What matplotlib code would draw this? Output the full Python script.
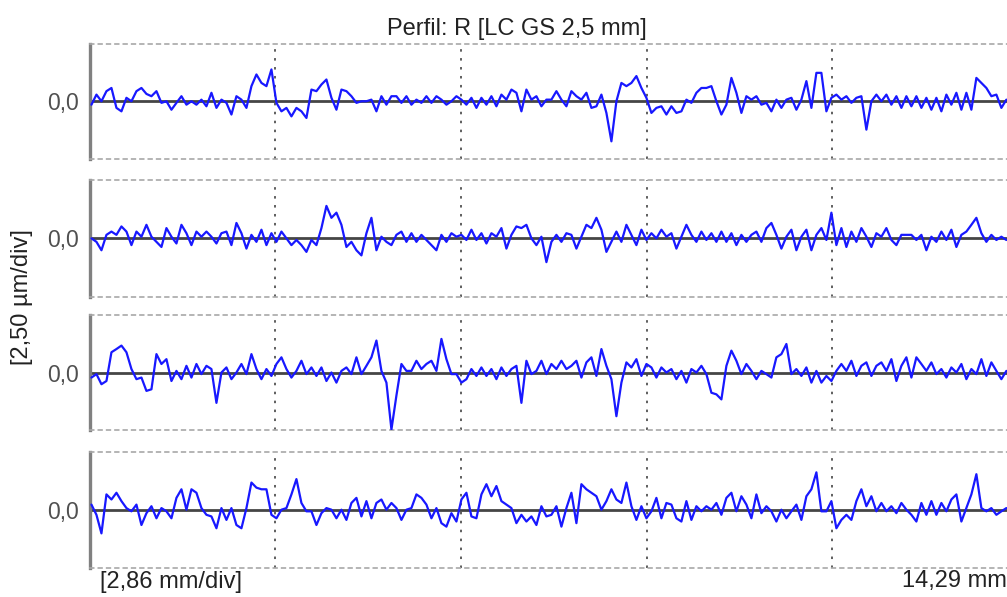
import matplotlib
matplotlib.use('Agg')
import matplotlib.pyplot as plt
import numpy as np

plt.rcParams['font.family'] = ['Liberation Sans', 'DejaVu Sans']

# roughness profiles, height in um, one sample every dx mm
x0 = 0.03
dx = 0.077
length = 14.29      # mm, total length of the trace
div_x = 2.86        # mm/div
div_y = 2.50        # um/div

r1 = [-0.15, 0.29, 0.0, 0.44, 0.58, -0.29, -0.44, 0.15, 0.0, 0.44,
      0.58, 0.32, 0.22, 0.44, -0.07, 0.0, -0.37, -0.07, 0.22, -0.15,
      0.0, -0.15, 0.07, -0.22, 0.37, -0.29, 0.07, -0.07, -0.58, 0.22,
      0.07, -0.29, 0.66, 1.17, 0.80, 0.66, 1.39, -0.07, -0.44, -0.29,
      -0.66, -0.29, -0.44, -0.73, 0.51, 0.44, 0.73, 0.95, 0.15, -0.37,
      0.51, 0.44, 0.22, -0.07, 0.0, 0.0, 0.07, -0.44, 0.22, -0.15,
      0.22, 0.22, -0.07, 0.22, -0.15, 0.07, -0.07, 0.22, -0.07, 0.22,
      0.07, -0.15, 0.0, 0.22, 0.07, -0.15, 0.15, -0.29, 0.15, -0.15,
      0.22, -0.22, 0.29, 0.07, 0.51, 0.37, -0.44, 0.51, 0.07, 0.22,
      -0.22, 0.07,
      0.07, 0.44, 0.07, -0.22, 0.44, 0.22, 0.07, 0.37, -0.29, -0.22,
      0.29, -0.51, -1.75, 0.0, 0.80, 0.66, 0.80, 1.10, 0.58, 0.15,
      -0.51, -0.29, -0.22, -0.58, -0.22, -0.51, -0.44, 0.07, -0.07, 0.37,
      0.58, 0.58, 0.66, 0.0, -0.58, -0.15, 1.02, 0.37, -0.51, 0.22,
      0.07, 0.22, -0.15, -0.07, -0.44, 0.07, -0.29, 0.07, 0.15, -0.37,
      0.07, 0.88, -0.29, 1.24, 1.24, -0.44, 0.15, 0.29, 0.07, 0.22,
      -0.07, 0.15, 0.22, -1.24, 0.0, 0.29, 0.0, 0.29, -0.15, 0.22,
      -0.29, 0.22, -0.22, 0.22, -0.29, 0.15, -0.37, 0.15, -0.44, 0.29,
      -0.15, 0.37, -0.37, 0.37, -0.37, 1.02, 0.80, 0.58, 0.22, 0.29,
      -0.29, 0.07]

r2 = [0.0, -0.15, -0.51, 0.15, 0.29, 0.15, 0.51, 0.29, -0.29, 0.29,
      0.07, 0.58, 0.07, -0.15, -0.37, 0.44, 0.07, -0.22, 0.58, 0.22,
      -0.29, 0.29, 0.07, 0.29, 0.07, -0.22, 0.22, 0.29, -0.29, 0.66,
      0.22, -0.44, 0.15, -0.15, 0.37, -0.29, 0.22, -0.15, 0.29, 0.0,
      -0.29, -0.07, -0.29, -0.58, -0.07, -0.29, 0.44, 1.39, 0.88, 1.10,
      0.58, -0.37, -0.15, -0.51, -0.73, 0.22, 0.88, -0.51, 0.07, -0.15,
      -0.29, 0.15, 0.29, -0.15, 0.22, -0.15, 0.15, -0.07, -0.29, -0.51,
      0.15, -0.15, 0.22, 0.07, 0.15, -0.07, 0.37, -0.07, 0.22, -0.22,
      0.22, 0.07, 0.44, -0.44, 0.15, 0.51, 0.44, 0.58, 0.0, -0.29,
      0.07, -1.02,
      -0.15, 0.15, -0.15, 0.22, 0.15, -0.44, 0.07, 0.58, 0.44, 0.88,
      0.37, -0.58, -0.15, 0.29, -0.15, 0.58, 0.15, -0.29, 0.37, -0.07,
      0.22, 0.0, 0.37, 0.07, 0.22, -0.44, 0.07, 0.58, 0.15, -0.15,
      0.29, -0.07, 0.22, -0.15, 0.29, -0.15, 0.22, -0.29, 0.15, -0.15,
      0.15, 0.29, -0.15, 0.44, 0.66, 0.15, -0.44, 0.07, 0.37, -0.51,
      0.07, 0.37, -0.51, 0.15, 0.44, -0.07, 1.10, -0.29, 0.44, -0.37,
      0.29, -0.15, 0.44, 0.07, -0.37, 0.22, 0.07, 0.44, -0.07, -0.29,
      0.15, 0.15, 0.15, -0.07, 0.15, -0.51, 0.07, -0.15, 0.29, -0.07,
      0.37, -0.37, 0.15, 0.29, 0.58, 0.88, 0.22, -0.15, 0.15, -0.07,
      0.07, -0.07]

r3 = [-0.22, -0.07, -0.51, -0.37, 0.88, 1.02, 1.17, 0.88, 0.15, -0.29,
      -0.22, -0.80, -0.73, 0.80, 0.37, 0.58, -0.37, 0.07, -0.29, 0.29,
      -0.22, 0.37, -0.07, 0.29, 0.15, -1.32, 0.0, 0.22, -0.29, 0.0,
      0.37, -0.07, 0.80, 0.15, -0.29, 0.15, -0.15, 0.37, 0.66, 0.15,
      -0.22, 0.07, 0.51, -0.07, 0.22, -0.15, 0.22, -0.37, 0.0, -0.44,
      0.07, 0.22, -0.07, 0.66, -0.07, 0.29, 0.66, 1.39, 0.07, -0.44,
      -2.48, -1.0, 0.37, 0.07, 0.07, 0.51, 0.15, 0.37, 0.51, 0.07,
      1.46, 0.58, -0.07, -0.07, -0.44, -0.29, 0.15, -0.15, 0.22, -0.15,
      0.15, -0.29, 0.22, -0.15, 0.15, 0.29, -1.32, 0.51, -0.07, 0.07,
      0.51, -0.07,
      0.37, 0.15, 0.51, 0.15, 0.29, 0.51, -0.22, 0.44, 0.66, -0.15,
      1.02, 0.29, -0.29, -1.90, -0.44, 0.44, 0.22, 0.58, -0.15, 0.37,
      0.22, -0.22, 0.22, 0.0, 0.15, -0.29, 0.07, -0.44, 0.15, 0.0,
      0.29, -0.07, -0.88, -0.95, -1.17, 0.29, 0.95, 0.51, -0.07, 0.37,
      0.07, -0.29, 0.07, -0.07, -0.22, 0.66, 0.80, 1.24, -0.07, 0.15,
      -0.15, 0.22, -0.44, 0.07, -0.44, -0.15, -0.37, 0.07, 0.37, 0.07,
      0.51, -0.15, 0.29, 0.44, -0.15, 0.29, 0.44, 0.07, 0.58, -0.37,
      0.29, 0.66, -0.22, 0.66, 0.37, 0.07, 0.44, -0.07, 0.15, -0.22,
      0.22, 0.0, 0.37, -0.29, 0.15, -0.07, 0.58, -0.15, 0.44, 0.07,
      -0.29, 0.07]

r4 = [0.22, -0.22, -1.02, 0.66, 0.44, 0.73, 0.37, 0.07, -0.07, 0.22,
      -0.66, -0.15, 0.15, -0.37, 0.07, -0.07, -0.37, 0.51, 0.88, 0.0,
      0.88, 0.73, 0.07, -0.22, -0.29, -0.80, 0.07, -0.44, 0.07, -0.66,
      -0.80, 0.07, 1.17, 0.95, 0.88, 0.88, -0.22, -0.37, 0.0, 0.07,
      0.66, 1.32, 0.29, -0.07, -0.07, -0.66, -0.15, 0.07, 0.0, -0.37,
      0.0, -0.44, 0.29, 0.51, -0.29, 0.37, -0.37, 0.29, 0.44, 0.0,
      0.29, 0.07, -0.44, 0.0, 0.07, 0.66, 0.51, 0.22, -0.37, 0.07,
      -0.58, -0.73, -0.15, -0.51, 0.44, 0.73, -0.29, -0.37, 0.66, 1.10,
      0.58, 1.02, 0.37, 0.22, 0.07, -0.58, -0.22, -0.51, -0.29, -0.66,
      0.15, -0.29,
      -0.22, 0.15, -0.73, 0.07, 0.73, -0.58, 1.10, 0.88, 0.73, 0.58,
      0.0, 0.37, 0.88, 0.44, 0.29, 1.17, 0.15, -0.44, 0.15, -0.37,
      -0.07, 0.51, -0.37, 0.29, 0.22, -0.37, -0.51, 0.37, -0.44, 0.15,
      -0.07, 0.15, 0.0, 0.29, -0.22, 0.51, 0.73, -0.07, 0.58, 0.22,
      -0.37, 0.66, -0.15, 0.15, -0.07, -0.51, 0.0, -0.37, -0.07, 0.22,
      -0.44, 0.58, 0.88, 1.61, -0.07, -0.07, 0.37, -0.80, -0.44, -0.22,
      -0.44, 0.37, 0.88, 0.15, 0.58, -0.07, 0.29, -0.07, 0.15, -0.15,
      0.29, 0.0, -0.22, -0.51, 0.29, -0.22, 0.37, -0.22, 0.29, -0.07,
      0.44, 0.66, -0.51, 0.07, 0.66, 1.53, 0.07, -0.07, 0.07, -0.22,
      -0.07, 0.07]

profiles = [r1, r2, r3, r4]

title = 'Perfil: R [LC GS 2,5 mm]'
ylabel = '[2,50 µm/div]'
xlabel = '[2,86 mm/div]'
xend_label = '14,29 mm'

W, H = 1007, 597
fig = plt.figure(figsize=(W / 100, H / 100), dpi=100)

# panel tops / bottoms in pixels
tops = [44, 180, 315, 451.7]
bots = [158.5, 296.7, 430, 567.7]
left_px = 89.5
width_px = length / div_x * 185.7

for top, bot, r in zip(tops, bots, profiles):
    ax = fig.add_axes([left_px / W, 1 - bot / H, width_px / W, (bot - top) / H])
    y = np.array(r)
    x = x0 + dx * np.arange(len(y))
    ax.axhline(0, color='#454545', lw=2.0, zorder=2)
    ax.plot(x, y, color='#1818ff', lw=1.6, zorder=3,
            solid_joinstyle='round', solid_capstyle='round')
    ax.set_xlim(0, length)
    ax.set_ylim(-div_y, div_y)

    ax.set_xticks([div_x * k for k in range(1, 5)])
    ax.set_xticklabels([])
    ax.tick_params(axis='x', length=0)
    ax.xaxis.grid(True, color='#5e5e5e', linestyle=(0, (1.3, 3.3)), lw=1.4)

    ax.set_yticks([0])
    ax.set_yticklabels(['0,0'])
    ax.tick_params(axis='y', length=0, pad=8, labelsize=16.5, labelcolor='#505050')

    ax.spines['left'].set_color('#808080')
    ax.spines['left'].set_linewidth(2.4)
    ax.spines['right'].set_visible(False)
    for s in ['top', 'bottom']:
        ax.spines[s].set_color('#a8a8a8')
        ax.spines[s].set_linestyle((0, (2.2, 2.8)))
        ax.spines[s].set_linewidth(1.2)

fig.text(517 / W, 1 - 35 / H, title, ha='center', va='baseline',
         fontsize=17, color='#222222')
fig.text(22 / W, 1 - 297 / H, ylabel, ha='center', va='center',
         rotation=90, fontsize=17, color='#222222')
fig.text(100 / W, 1 - 588 / H, xlabel, ha='left', va='baseline',
         fontsize=17, color='#222222')
fig.text(902 / W, 1 - 587 / H, xend_label, ha='left', va='baseline',
         fontsize=17, color='#222222')

fig.savefig('out.png', dpi=100)
